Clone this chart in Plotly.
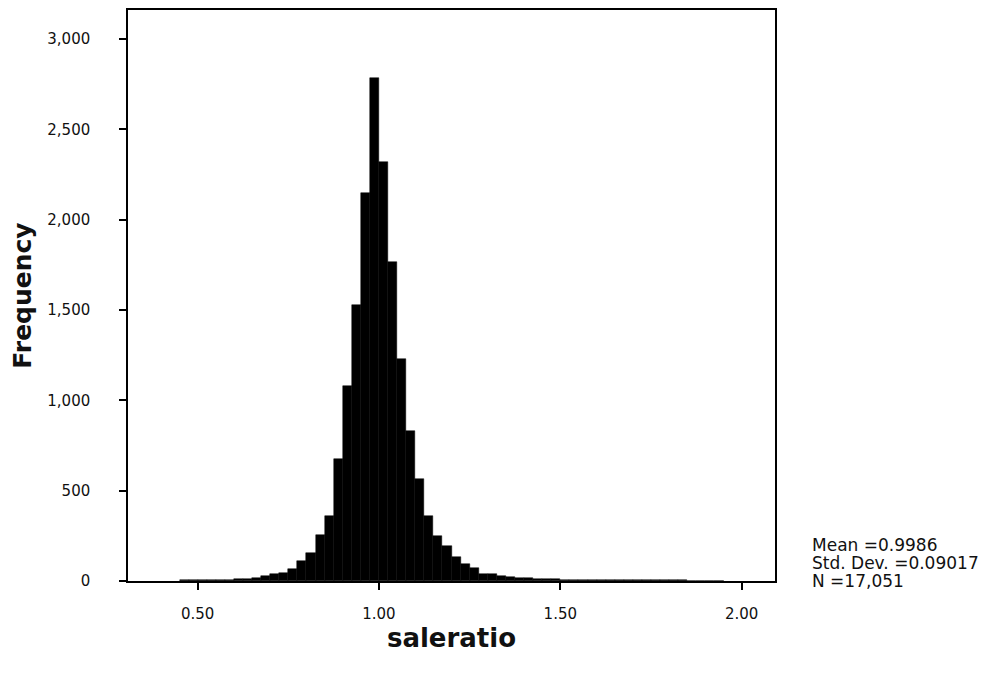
import plotly.graph_objects as go

# Histogram of saleratio: bin lower edges (bin width 0.025) and frequencies
bin_width = 0.025
bin_lower = [0.450, 0.475, 0.500, 0.525, 0.550, 0.575, 0.600, 0.625, 0.650, 0.675,
             0.700, 0.725, 0.750, 0.775, 0.800, 0.825, 0.850, 0.875, 0.900, 0.925,
             0.950, 0.975, 1.000, 1.025, 1.050, 1.075, 1.100, 1.125, 1.150, 1.175,
             1.200, 1.225, 1.250, 1.275, 1.300, 1.325, 1.350, 1.375, 1.400, 1.425,
             1.450, 1.475, 1.500, 1.525, 1.550, 1.575, 1.600, 1.625, 1.650, 1.675,
             1.700, 1.725, 1.750, 1.775, 1.800, 1.825, 1.850, 1.875, 1.900, 1.925]
frequency = [3, 4, 4, 5, 6, 7, 9, 12, 18, 25,
             36, 44, 67, 108, 153, 256, 361, 675, 1080, 1527,
             2150, 2785, 2320, 1766, 1230, 830, 565, 361, 251, 196,
             131, 92, 70, 40, 38, 30, 22, 18, 15, 12,
             10, 9, 8, 8, 7, 6, 6, 6, 5, 5,
             5, 4, 4, 4, 3, 3, 2, 1, 1, 1]

x_ticks = [0.5, 1.0, 1.5, 2.0]
y_ticks = [0, 500, 1000, 1500, 2000, 2500, 3000]
x_title = "saleratio"
y_title = "Frequency"
stats_lines = ["Mean =0.9986", "Std. Dev. =0.09017", "N =17,051"]

FONT = "DejaVu Sans"

fig = go.Figure()
fig.add_trace(go.Bar(
    x=[b + bin_width / 2 for b in bin_lower],
    y=frequency,
    width=bin_width,
    marker=dict(color="black", line=dict(color="black", width=0.5)),
    showlegend=False,
    hoverinfo="x+y",
))

fig.update_layout(
    width=1001, height=673,
    margin=dict(l=120, r=234, t=0, b=100),
    paper_bgcolor="white",
    plot_bgcolor="white",
    bargap=0,
    font=dict(family=FONT, color="black"),
    xaxis=dict(
        range=[0.308, 2.092],
        tickvals=x_ticks,
        tickformat=".2f",
        ticks="outside", ticklen=7, tickwidth=2, tickcolor="black",
        ticklabelstandoff=11,
        showline=True, linecolor="black", linewidth=1.5, mirror=True,
        showgrid=False, zeroline=False,
        tickfont=dict(family=FONT, size=15, color="#111"),
        title=dict(text="<b>" + x_title + "</b>", font=dict(family=FONT, size=26, color="#111"), standoff=0),
    ),
    yaxis=dict(
        range=[0, 3160],
        tickvals=y_ticks,
        tickformat=",",
        ticks="outside", ticklen=7, tickwidth=2, tickcolor="black",
        ticklabelstandoff=26,
        showline=True, linecolor="black", linewidth=1.5, mirror=True,
        showgrid=False, zeroline=False,
        tickfont=dict(family=FONT, size=15, color="#111"),
        title=dict(text="<b>" + y_title + "</b>", font=dict(family=FONT, size=25, color="#111"), standoff=12),
    ),
)

for i, line in enumerate(stats_lines):
    fig.add_annotation(
        text=line, xref="paper", yref="paper",
        x=1.054, y=0.063 - i * 0.0314,
        xanchor="left", yanchor="middle", showarrow=False,
        font=dict(family=FONT, size=17, color="#111"),
    )

fig.write_html("out.html")
